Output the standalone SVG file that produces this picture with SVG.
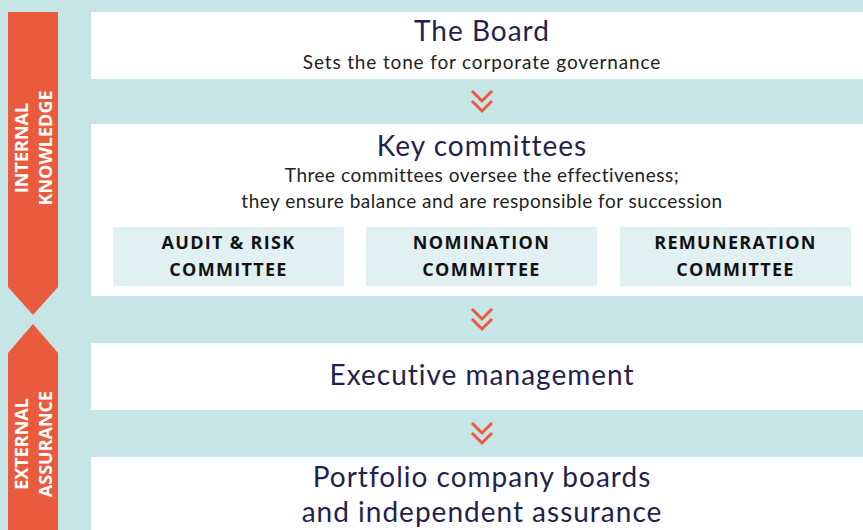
<svg xmlns="http://www.w3.org/2000/svg" width="863" height="530" viewBox="0 0 863 530">
<style>
.panel{fill:#ffffff}
.sub{fill:#e1f1f2}
.h{font-family:Lato,"Open Sans",sans-serif;font-size:28px;letter-spacing:1px;fill:#241f4f;text-anchor:middle}
.b{font-family:Lato,"Open Sans",sans-serif;font-size:19px;letter-spacing:0.5px;fill:#222222;text-anchor:middle}
.c{font-family:"Open Sans",Lato,sans-serif;font-size:18px;font-weight:bold;letter-spacing:1.3px;fill:#111111;text-anchor:middle}
.v{font-family:"Open Sans",Lato,sans-serif;font-size:18px;font-weight:bold;fill:#ffffff;text-anchor:middle}
.chev{fill:none;stroke:#ea5b3d;stroke-width:3}
</style>
<defs>
<g id="dchev">
<path class="chev" d="M-10,-10 L0,0 L10,-10"/>
<path class="chev" d="M-10,0 L0,10 L10,0"/>
</g>
</defs>
<rect x="0" y="0" width="863" height="530" fill="#c5e5e6"/>
<g id="banner-internal">
<polygon points="8,12 58,12 58,287 33,315 8,287" fill="#ea5b3d"/>
<text class="v" transform="translate(28,148) rotate(-90)">INTERNAL</text>
<text class="v" transform="translate(52,148) rotate(-90)">KNOWLEDGE</text>
</g>
<g id="banner-external">
<polygon points="33,324 58,353 58,530 8,530 8,353" fill="#ea5b3d"/>
<text class="v" transform="translate(28,444) rotate(-90)">EXTERNAL</text>
<text class="v" transform="translate(52,444) rotate(-90)">ASSURANCE</text>
</g>
<g id="board">
<rect class="panel" x="91" y="12" width="772" height="67"/>
<text class="h" x="482" y="41">The Board</text>
<text class="b" x="482" y="69" style="letter-spacing:0.85px">Sets the tone for corporate governance</text>
</g>
<g id="committees">
<rect class="panel" x="91" y="124" width="772" height="172"/>
<text class="h" x="482" y="156">Key committees</text>
<text class="b" x="482" y="182">Three committees oversee the effectiveness;</text>
<text class="b" x="482" y="208">they ensure balance and are responsible for succession</text>
</g>
<g id="audit">
<rect class="sub" x="113" y="227" width="231" height="59"/>
<text class="c" x="228.5" y="249">AUDIT &amp; RISK</text>
<text class="c" x="228.5" y="276">COMMITTEE</text>
</g>
<g id="nomination">
<rect class="sub" x="366" y="227" width="231" height="59"/>
<text class="c" x="481.5" y="249">NOMINATION</text>
<text class="c" x="481.5" y="276">COMMITTEE</text>
</g>
<g id="remuneration">
<rect class="sub" x="620" y="227" width="231" height="59"/>
<text class="c" x="735.5" y="249">REMUNERATION</text>
<text class="c" x="735.5" y="276">COMMITTEE</text>
</g>
<g id="executive">
<rect class="panel" x="91" y="343" width="772" height="67"/>
<text class="h" x="482" y="385">Executive management</text>
</g>
<g id="portfolio">
<rect class="panel" x="91" y="457" width="772" height="73"/>
<text class="h" x="482" y="487">Portfolio company boards</text>
<text class="h" x="482" y="522">and independent assurance</text>
</g>
<g id="connectors">
<use href="#dchev" x="482" y="101"/>
<use href="#dchev" x="482" y="319"/>
<use href="#dchev" x="482" y="433"/>
</g>
</svg>
